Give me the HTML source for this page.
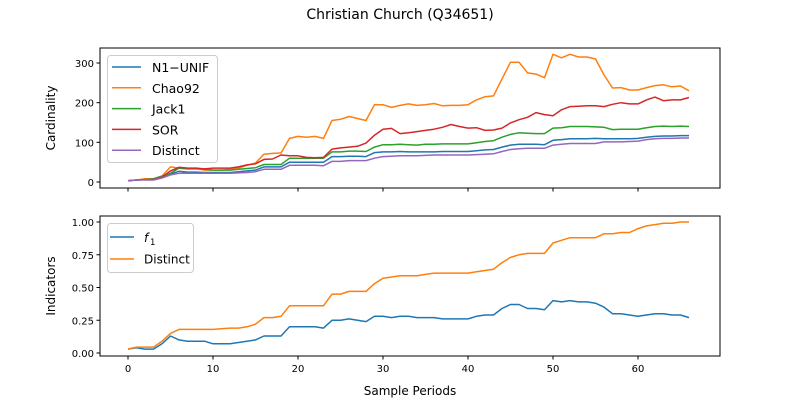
<!DOCTYPE html>
<html><head><meta charset="utf-8"><style>
body{margin:0;background:#fff}
svg{font-family:"DejaVu Sans","Liberation Sans",sans-serif}
</style></head><body>
<svg id="c" width="800" height="400"></svg>
<script>
const periods=[...Array(67).keys()];
const seriesNames=["N1\u2212UNIF","Chao92","Jack1","SOR","Distinct"];
const n1unif=[3,5,6,6,12,20,27,25,25,24,24,24,24,26,28,30,38,38,38,50,50,50,50,50,64,64,65,65,64,74,76,76,77,76,76,76,76,77,77,77,77,79,81,82,88,93,95,95,95,94,105,107,109,109,109,110,109,109,109,109,110,113,115,116,116,117,117];
const chao92=[3,5,8,8,15,38,35,33,35,30,30,30,32,35,42,48,70,72,73,110,115,113,115,110,155,158,165,160,155,195,195,188,193,197,193,195,198,192,193,193,195,207,215,217,260,302,302,275,272,263,322,313,322,315,315,310,270,237,238,232,232,238,243,245,240,242,230];
const jack1=[3,5,6,8,15,22,35,33,33,32,30,30,30,32,34,36,44,44,44,60,60,60,60,60,76,76,78,78,77,88,94,94,95,94,93,95,95,96,96,96,96,99,102,104,113,120,124,123,122,122,136,137,140,140,140,139,138,132,133,133,133,137,140,141,140,141,140];
const sor=[3,5,6,6,12,28,37,35,35,33,35,35,35,38,43,46,57,58,68,66,66,62,61,62,83,86,88,90,98,118,133,135,122,124,127,130,133,138,145,140,136,137,130,131,136,149,157,163,175,170,167,182,190,191,192,192,190,196,200,197,197,207,214,205,207,207,213];
const distinct=[3,5,5,5,10,18,22,22,22,22,22,22,22,23,24,26,32,32,32,42,42,42,42,41,52,52,54,54,54,60,64,65,66,66,66,67,68,68,68,68,68,69,70,71,77,82,84,85,85,85,93,95,97,97,97,97,101,101,101,102,103,107,109,110,110,111,111];
const f1=[.03,.04,.03,.03,.07,.13,.1,.09,.09,.09,.07,.07,.07,.08,.09,.1,.13,.13,.13,.2,.2,.2,.2,.19,.25,.25,.26,.25,.24,.28,.28,.27,.28,.28,.27,.27,.27,.26,.26,.26,.26,.28,.29,.29,.34,.37,.37,.34,.34,.33,.4,.39,.4,.39,.39,.38,.35,.3,.3,.29,.28,.29,.3,.3,.29,.29,.27];
const distinctRatio=[.03,.045,.045,.045,.09,.15,.18,.18,.18,.18,.18,.185,.19,.19,.2,.22,.27,.27,.28,.36,.36,.36,.36,.36,.45,.45,.47,.47,.47,.53,.57,.58,.59,.59,.59,.6,.61,.61,.61,.61,.61,.62,.63,.64,.69,.73,.75,.76,.76,.76,.84,.86,.88,.88,.88,.88,.91,.91,.92,.92,.95,.97,.98,.99,.99,1,1];
const xTicks=[0,10,20,30,40,50,60];
const topTicks=[0,100,200,300];
const botTicks=[0,0.25,0.5,0.75,1.0];
const botTickLabels=["0.00","0.25","0.50","0.75","1.00"];
const colors=["#1f77b4","#ff7f0e","#2ca02c","#d62728","#9467bd"];

const svg=document.getElementById('c');
const NS="http://www.w3.org/2000/svg";
function el(tag,attrs,parent,text){const e=document.createElementNS(NS,tag);for(const k in attrs)e.setAttribute(k,attrs[k]);if(text!=null)e.textContent=text;(parent||svg).appendChild(e);return e;}
const L=100,R=720;
const x=v=>128+(v)*8.5;
const yTop=v=>182-v*119/300;
const yBot=v=>353-v*131;

let t=el('text',{x:400,y:19,'text-anchor':'middle','font-size':14},svg,'Christian Church (Q34651)');


function frame(g,top,bot){const r=el('rect',{x:L,y:top,width:R-L,height:bot-top,fill:'none',stroke:'#000','stroke-width':1},g);}
function line(g,arr,yf,color,name){
  const p=arr.map((v,i)=>x(periods[i]).toFixed(1)+','+yf(v).toFixed(1)).join(' ');
  const pl=el('polyline',{points:p,fill:'none',stroke:color,'stroke-width':1.5,'stroke-linejoin':'round'},g);
  
}
function yaxis(g,ticks,labels,yf,title,cy){
  ticks.forEach((v,i)=>{
    el('line',{x1:L-3.5,x2:L,y1:yf(v),y2:yf(v),stroke:'#000'},g);
    const tt=el('text',{x:L-6,y:yf(v)+4,'text-anchor':'end','font-size':10},g,labels[i]);
    
  });
  const yt=el('text',{x:0,y:0,'text-anchor':'middle','font-size':12,transform:`translate(55,${cy}) rotate(-90)`},g,title);
  
}
function xaxis(g,bot,labels){
  xTicks.forEach(v=>{
    el('line',{x1:x(v),x2:x(v),y1:bot,y2:bot+3.5,stroke:'#000'},g);
    if(labels){const tt=el('text',{x:x(v),y:bot+16,'text-anchor':'middle','font-size':10},g,String(v));
    }
  });
}
// top
const g1=el('g',{});


const topData=[n1unif,chao92,jack1,sor,distinct];
topData.forEach((a,i)=>line(g1,a,yTop,colors[i],'line-'+['n1-unif','chao92','jack1','sor','distinct'][i]));
frame(g1,48,188);
yaxis(g1,topTicks,topTicks.map(String),yTop,'Cardinality',118);
xaxis(g1,188,false);
const lg1=el('g',{},g1);


const r1=el('rect',{x:107.5,y:55.5,width:110,height:107,rx:3,fill:'#fff','fill-opacity':0.8,stroke:'#ccc'},lg1);


seriesNames.forEach((n,i)=>{
  const yy=67+i*20.8;
  el('line',{x1:112,x2:141,y1:yy,y2:yy,stroke:colors[i],'stroke-width':1.5},lg1);
  const tt=el('text',{x:152,y:yy+5,'font-size':12.5},lg1,n);
  
  
});
// bottom
const g2=el('g',{});


line(g2,f1,yBot,colors[0],'line-f1');
line(g2,distinctRatio,yBot,colors[1],'line-distinct-ratio');
frame(g2,216,356);
yaxis(g2,botTicks,botTickLabels,yBot,'Indicators',286);
xaxis(g2,356,true);
const lg=el('g',{},g2);


const r=el('rect',{x:107.5,y:223.5,width:86,height:49,rx:3,fill:'#fff','fill-opacity':0.8,stroke:'#ccc'},lg);


el('line',{x1:110,x2:134,y1:237,y2:237,stroke:colors[0],'stroke-width':1.5},lg);
const f1t=el('text',{x:144,y:242,'font-size':12,'font-style':'italic'},lg,'f');


el('text',{x:150,y:245,'font-size':8.5},lg,'1');
el('line',{x1:110,x2:134,y1:259,y2:259,stroke:colors[1],'stroke-width':1.5},lg);
const dt=el('text',{x:144,y:263.5,'font-size':12},lg,'Distinct');


const xt=el('text',{x:410,y:395,'text-anchor':'middle','font-size':12},svg,'Sample Periods');


</script>
</body></html>
